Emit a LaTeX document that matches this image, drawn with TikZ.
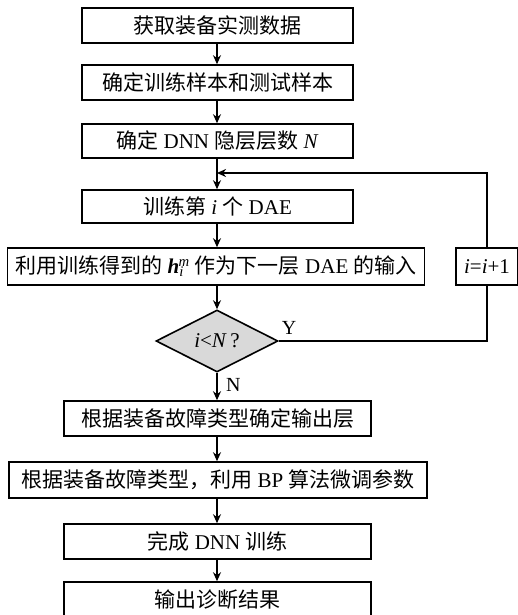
\documentclass[tikz,border=0pt]{standalone}
\usepackage{fontspec}
\setmainfont{Liberation Serif}
\newfontfamily\cjk{Noto Sans CJK SC}
\usetikzlibrary{shapes.geometric,arrows.meta}
\tikzset{
  box/.style={draw, line width=1.6pt, rectangle, inner sep=0pt, minimum height=35pt, font=\fontsize{21}{24}\selectfont},
  dec/.style={draw, line width=1.6pt, diamond, fill=gray!30, inner sep=0pt, minimum width=122pt, minimum height=62pt, font=\fontsize{21}{24}\selectfont},
  conn/.style={line width=1.6pt},
  arr/.style={line width=1.6pt, -{Stealth[length=9pt,width=8pt]}},
  lbl/.style={font=\fontsize{20}{24}\selectfont}
}
\begin{document}
\begin{tikzpicture}[x=1pt,y=-1pt]
\useasboundingbox (0,0) rectangle (517,615);
\node[box, minimum width=271pt] (b1) at (217.5,25.5) {\cjk 获取装备实测数据};
\node[box, minimum width=271pt] (b2) at (217.5,82.5) {\cjk 确定训练样本和测试样本};
\node[box, minimum width=271pt, minimum height=34pt] (b3) at (217.5,141) {{\cjk 确定} DNN {\cjk 隐层层数} \textit{N}};
\node[box, minimum width=271pt, minimum height=33pt] (b4) at (217.5,206.5) {{\cjk 训练第} \textit{i} {\cjk 个} DAE};
\node[box, minimum width=417pt, minimum height=37pt] (b5) at (216,266.5) {{\cjk 利用训练得到的} {\bfseries\itshape h}\textsubscript{\textit{i}}\kern-0.25em\textsuperscript{\textit{m}} {\cjk 作为下一层} DAE {\cjk 的输入}};
\node[box, minimum width=62pt, minimum height=37pt] (b10) at (487,266.5) {\textit{i}=\textit{i}+1};
\node[dec] (d) at (217,341) {\textit{i}<\textit{N}\,?};
\node[box, minimum width=307pt] (b6) at (217.5,418.5) {\cjk 根据装备故障类型确定输出层};
\node[box, minimum width=418pt, minimum height=36pt] (b7) at (218,480) {{\cjk 根据装备故障类型，利用} BP {\cjk 算法微调参数}};
\node[box, minimum width=307pt] (b8) at (217.5,541.5) {{\cjk 完成} DNN {\cjk 训练}};
\node[box, minimum width=307pt] (b9) at (217.5,599.5) {\cjk 输出诊断结果};
\coordinate (j) at (217,173);
\coordinate (jr) at (487,173);
\coordinate (yr) at (487,341);
\draw[arr] (b1.south -| j) -- (b2.north -| j);
\draw[arr] (b2.south -| j) -- (b3.north -| j);
\draw[arr] (b3.south -| j) -- (b4.north -| j);
\draw[arr] (b4.south -| j) -- (b5.north -| j);
\draw[arr] (b5.south -| j) -- (d.north);
\draw[arr] (d.south) -- (b6.north -| j) node[lbl, pos=0.45, right=5pt] {N};
\draw[arr] (b6.south -| j) -- (b7.north -| j);
\draw[arr] (b7.south -| j) -- (b8.north -| j);
\draw[arr] (b8.south -| j) -- (b9.north -| j);
\draw[conn] (d.east) -- (yr) -- (b10.south);
\draw[arr] (b10.north) -- (jr) -- (j);
\node[lbl] (y) at (289,328) {Y};
\end{tikzpicture}
\end{document}
